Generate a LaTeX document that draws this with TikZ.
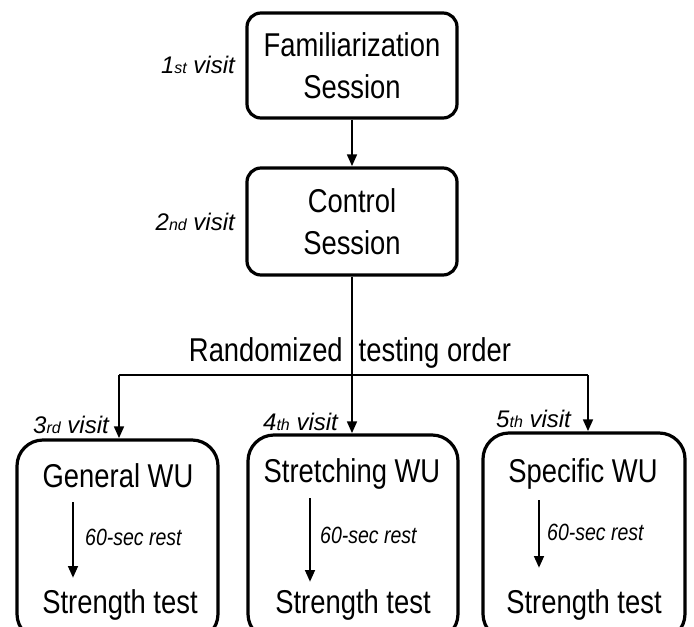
\documentclass[tikz,border=0pt]{standalone}
\usepackage{fontspec}
\setmainfont{Liberation Sans}
\newfontfamily\cond[FakeStretch=0.83]{Liberation Sans}
\usetikzlibrary{arrows.meta}
\newcommand{\sfx}[1]{{\fontsize{16}{16}\selectfont #1}}
\begin{document}
\begin{tikzpicture}[x=1pt,y=-1pt,
 box/.style={draw, line width=3.2pt, rounded corners=14pt},
 bbox/.style={draw, line width=3.2pt, rounded corners=26pt},
 conn/.style={line width=2.9pt},
 arr/.style={line width=2.9pt, -{Triangle[length=12pt,width=9.5pt]}},
 main/.style={font=\cond\fontsize{33}{42}\selectfont, align=center, inner sep=0pt},
 visit/.style={font=\fontsize{24}{24}\selectfont\itshape, inner sep=0pt},
 rest/.style={font=\cond\fontsize{23.5}{23.5}\selectfont\itshape, inner sep=0pt, anchor=base west}]
\useasboundingbox (0,0) rectangle (694,627);
\clip (0,0) rectangle (694,627);

% top boxes
\node[box, main, minimum width=210pt, minimum height=105pt] (fam) at (352,65.5) {Familiarization\\Session};
\node[box, main, minimum width=210pt, minimum height=107pt] (ctrl) at (352,221.5) {Control\\Session};

% bottom boxes
\node[bbox, minimum width=201pt, minimum height=200pt] (b1) at (117.5,540) {};
\node[bbox, minimum width=210pt, minimum height=205pt] (b2) at (353,537.5) {};
\node[bbox, minimum width=202pt, minimum height=207pt] (b3) at (584,536.5) {};

% visit labels
\node[visit, anchor=base east] (v1) at (235,73) {1\sfx{st} visit};
\node[visit, anchor=base east] (v2) at (235,230) {2\sfx{nd} visit};
\node[visit, anchor=base west] (v3) at (33,433) {3\sfx{rd} visit};
\node[visit, anchor=base west] (v4) at (263,430) {4\sfx{th} visit};
\node[visit, anchor=base west] (v5) at (496,427) {5\sfx{th} visit};

% randomized
\coordinate (hl1) at (119,375);
\coordinate (hl2) at (352,375);
\coordinate (hl3) at (588,375);
\draw[arr] (fam) -- (ctrl);
\draw[conn] (ctrl) -- (hl2);
\draw[conn] (hl1) -- (hl3);
\draw[arr] (hl1) -- (hl1 |- b1.north);
\draw[arr] (hl2) -- (hl2 |- b2.north);
\draw[arr] (hl3) -- (hl3 |- b3.north);
\node[main, anchor=base] (rand) at (350,361) {Randomized\hspace{16pt}testing order};

% box contents
\node[main, anchor=base] (w1) at (118,487) {General WU};
\node[main, anchor=base] (s1) at (120,613) {Strength test};
\coordinate (a1s) at (73,502); \coordinate (a1e) at (73,578);
\draw[arr] (a1s) -- (a1e);
\node[rest] (r1) at (85,545) {60-sec rest};

\node[main, anchor=base] (w2) at (352,482) {Stretching WU};
\node[main, anchor=base] (s2) at (353,613) {Strength test};
\coordinate (a2s) at (310,498); \coordinate (a2e) at (310,582);
\draw[arr] (a2s) -- (a2e);
\node[rest] (r2) at (320,543) {60-sec rest};

\node[main, anchor=base] (w3) at (583,482) {Specific WU};
\node[main, anchor=base] (s3) at (584,613) {Strength test};
\coordinate (a3s) at (539,500); \coordinate (a3e) at (539,568);
\draw[arr] (a3s) -- (a3e);
\node[rest] (r3) at (547,540) {60-sec rest};
\end{tikzpicture}
\end{document}
